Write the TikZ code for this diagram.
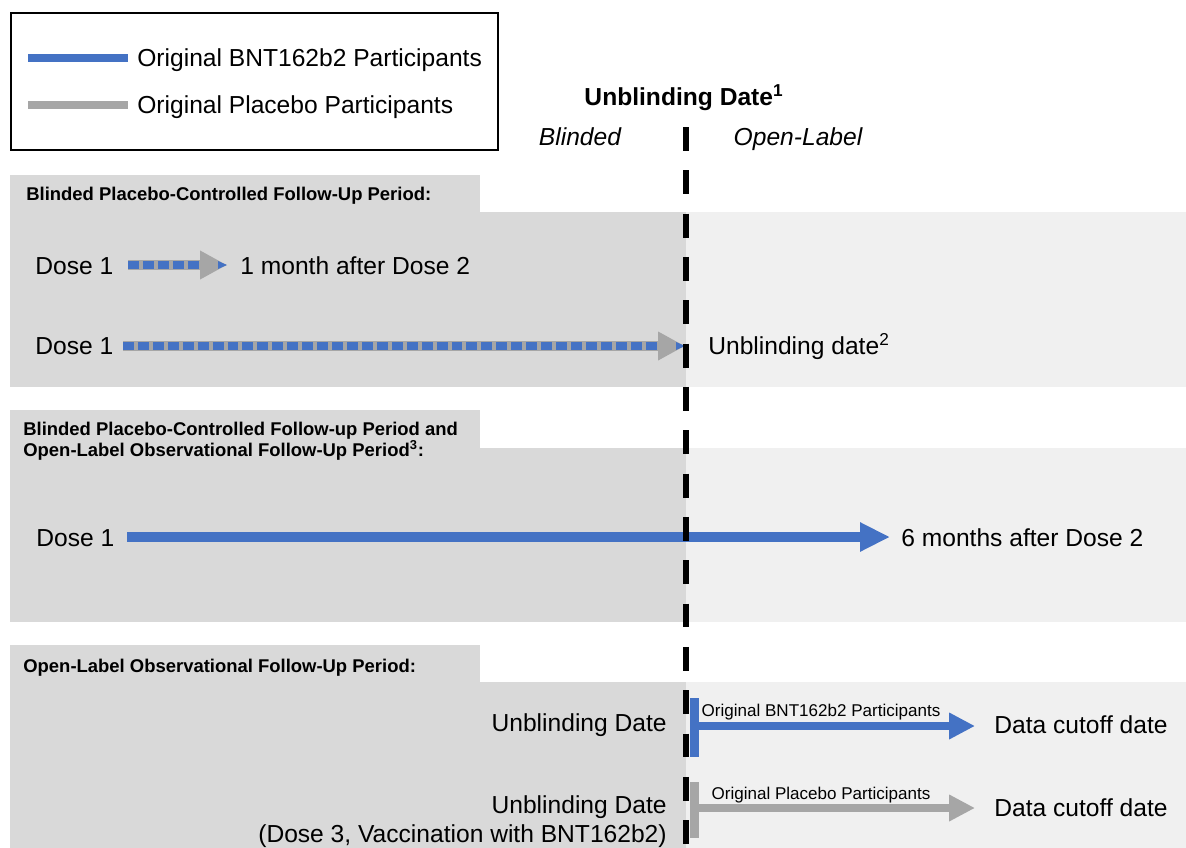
\documentclass[tikz,border=0pt]{standalone}
\usepackage{fontspec}
\setmainfont{Liberation Sans}
\usetikzlibrary{arrows.meta}
\definecolor{blu}{RGB}{68,114,196}
\definecolor{gry}{RGB}{166,166,166}
\definecolor{pdark}{RGB}{217,217,217}
\definecolor{plight}{RGB}{240,240,240}
\begin{document}
\begin{tikzpicture}[x=0.02cm,y=-0.02cm,
  lbl/.style={inner sep=0pt, font={\fontsize{14}{16}\selectfont}, text height=10pt, text depth=0pt},
  ttl/.style={inner sep=0pt, font={\fontsize{14}{16}\selectfont\bfseries}, text height=10pt, text depth=0pt},
  itl/.style={inner sep=0pt, font={\fontsize{14}{16}\selectfont\itshape}, text height=10pt, text depth=0pt},
  hdr/.style={inner sep=0pt, anchor=west, font={\fontsize{10.5}{12}\selectfont\bfseries}, text height=7.5pt, text depth=0pt},
  small/.style={inner sep=0pt, font={\fontsize{9.7}{11}\selectfont}, text height=7pt, text depth=0pt},
  bigarrow/.style={draw=blu, line width=5.7pt, -{Triangle[length=17pt,width=15.5pt]}, blu},
  outarrow/.style={line width=5.1pt, -{Triangle[length=14.7pt,width=14.2pt]}},
  grayshaft/.style={draw=gry, line width=5.7pt, -{Triangle[length=15.3pt,width=15.3pt]}, gry},
  bluedash/.style={draw=blu, line width=4.5pt, dash pattern=on 6.2pt off 2.3pt},
  divider/.style={draw=black, line width=3.4pt, dash pattern=on 13.6pt off 11.06pt},
  legline/.style={line width=4.5pt}
]
\useasboundingbox (0,0) rectangle (1186,848);
\fill[white] (0,0) rectangle (1186,848);

% ---- panels ----
\fill[pdark] (10,175) rectangle (480,212);
\fill[pdark] (10,212) rectangle (686,387);
\fill[plight] (686,212) rectangle (1186,387);

\fill[pdark] (10,410) rectangle (480,448);
\fill[pdark] (10,448) rectangle (686,622);
\fill[plight] (686,448) rectangle (1186,622);

\fill[pdark] (10,645) rectangle (480,682);
\fill[pdark] (10,682) rectangle (686,848);
\fill[plight] (686,682) rectangle (1186,848);

% ---- legend ----
\draw[line width=0.9pt] (11,13) rectangle (498,150);
\coordinate (lbs) at (28,58); \coordinate (lbe) at (128,58);
\coordinate (lgs) at (28,105); \coordinate (lge) at (128,105);
\draw[legline, blu] (lbs) -- (lbe);
\draw[legline, gry] (lgs) -- (lge);
\node[lbl, anchor=west] (legb) at (137,58) {Original BNT162b2 Participants};
\node[lbl, anchor=west] (legg) at (137,105) {Original Placebo Participants};

% ---- top titles ----
\node[ttl] (ud) at (684,97) {Unblinding Date\textsuperscript{1}};
\node[itl] (bl) at (580,137) {Blinded};
\node[itl] (ol) at (798,137) {Open-Label};

% ---- panel 1 ----
\node[hdr] (h1) at (26,194) {Blinded Placebo-Controlled Follow-Up Period:};
\node[lbl, anchor=west] (r1a) at (35,266) {Dose 1};
\node[lbl, anchor=west] (r1b) at (240,266) {1 month after Dose 2};
\coordinate (r1s) at (128,265); \coordinate (r1h) at (200,265); \coordinate (r1e) at (227,265);
\draw[grayshaft] (r1s) -- (r1e);
\draw[bluedash] (r1s) -- (r1h);
\fill[blu] (218,261) -- (r1e) -- (218,269) -- cycle;

\node[lbl, anchor=west] (r2a) at (35,346) {Dose 1};
\node[lbl, anchor=west] (r2b) at (708,346) {Unblinding date\textsuperscript{2}};
\coordinate (r2s) at (123,346); \coordinate (r2h) at (658,346); \coordinate (r2e) at (685,346);
\draw[grayshaft] (r2s) -- (r2e);
\draw[bluedash] (r2s) -- (r2h);
\fill[blu] (676,342) -- (r2e) -- (676,350) -- cycle;

% ---- panel 2 ----
\node[hdr] (h2a) at (23,429) {Blinded Placebo-Controlled Follow-up Period and};
\node[hdr] (h2b) at (23,450) {Open-Label Observational Follow-Up Period\textsuperscript{3}:};
\node[lbl, anchor=west] (r3a) at (36,538) {Dose 1};
\node[lbl, anchor=west] (r3b) at (901,538) {6 months after Dose 2};
\coordinate (r3s) at (127,537); \coordinate (r3e) at (890,537);
\draw[bigarrow] (r3s) -- (r3e);

% ---- panel 3 ----
\node[hdr] (h3) at (23,666) {Open-Label Observational Follow-Up Period:};
\node[lbl, anchor=east] (r4a) at (667,723) {Unblinding Date};
\node[lbl, anchor=east] (r5a) at (667,805) {Unblinding Date};
\node[lbl, anchor=east] (r5c) at (667,834) {(Dose 3, Vaccination with BNT162b2)};
\node[lbl, anchor=west] (r4b) at (994,725) {Data cutoff date};
\node[lbl, anchor=west] (r5b) at (994,808) {Data cutoff date};

\coordinate (bbt) at (694.5,698); \coordinate (bbb) at (694.5,757);
\coordinate (gbt) at (694.5,782); \coordinate (gbb) at (694.5,838);
\draw[blu, line width=5.1pt] (bbt) -- (bbb);
\draw[gry, line width=5.1pt] (gbt) -- (gbb);

\coordinate (r4s) at (694,726); \coordinate (r4e) at (975,726);
\coordinate (r5s) at (694,808); \coordinate (r5e) at (975,808);
\draw[outarrow, blu] (r4s) -- (r4e);
\draw[outarrow, gry] (r5s) -- (r5e);
\node[small] (l4) at (821,710) {Original BNT162b2 Participants};
\node[small] (l5) at (821,793) {Original Placebo Participants};

% ---- divider ----
\coordinate (dvt) at (686,127); \coordinate (dvb) at (686,848);
\draw[divider] (dvt) -- (dvb);
\end{tikzpicture}
\end{document}
